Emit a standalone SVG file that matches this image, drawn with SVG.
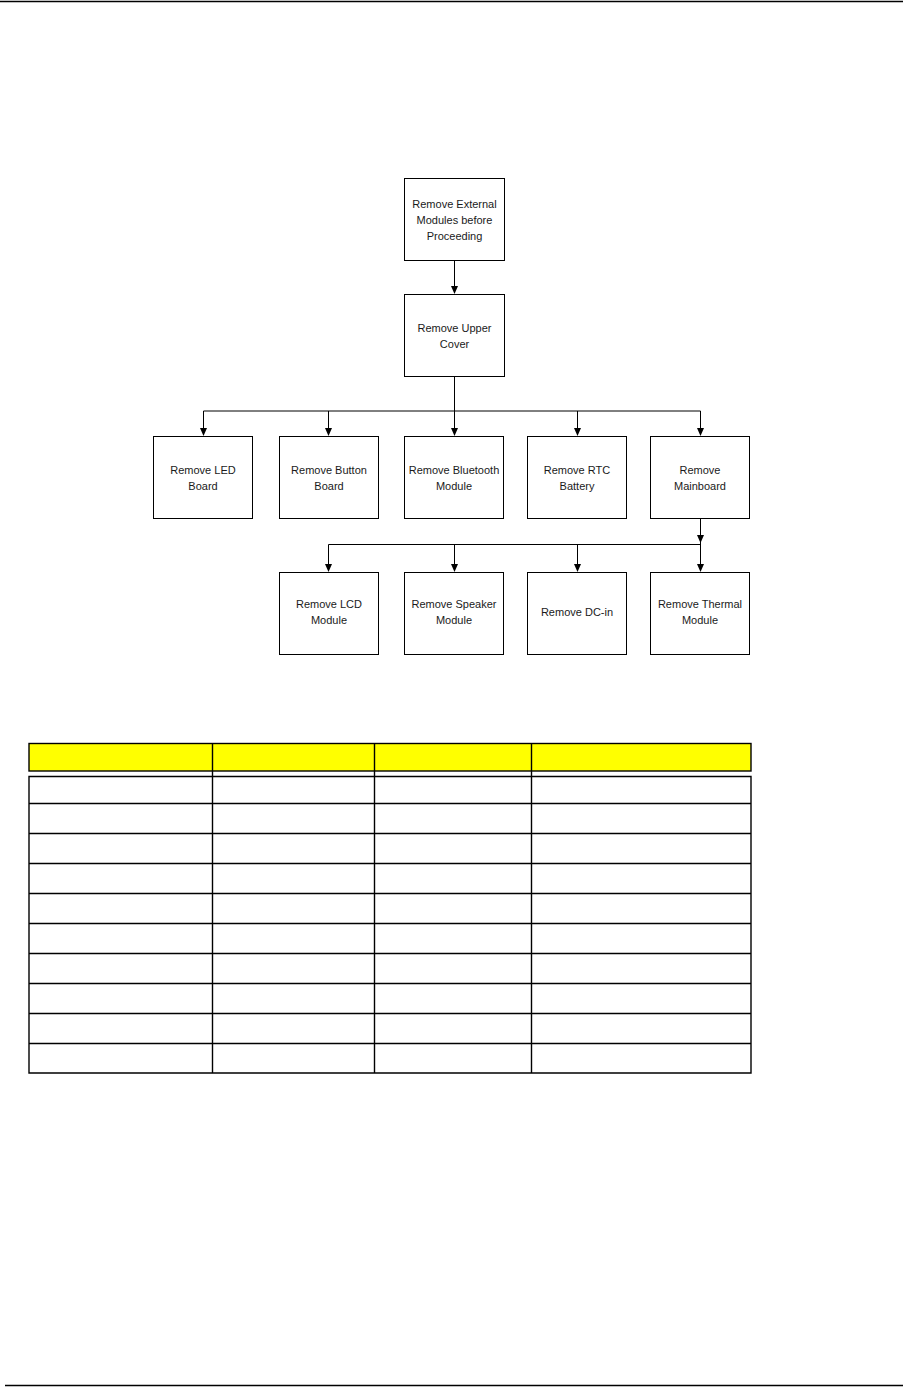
<svg xmlns="http://www.w3.org/2000/svg" width="912" height="1387" viewBox="0 0 912 1387">
<style>
.box{fill:#fff;stroke:#000;stroke-width:1}
.t{font-family:"Liberation Sans",Arial,sans-serif;font-size:11px;fill:#1a1a1a;text-anchor:middle}
.c{fill:none;stroke:#000;stroke-width:1}
.tb{fill:none;stroke:#000;stroke-width:1.4}
</style>
<rect width="912" height="1387" fill="#fff"/>
<line x1="0" y1="1.5" x2="903" y2="1.5" stroke="#000" stroke-width="1.5"/>
<line x1="5" y1="1385.5" x2="903" y2="1385.5" stroke="#000" stroke-width="1.5"/>

<g id="connectors">
<path class="c" d="M454.5,260 V286"/>
<path d="M451,286 L458,286 L454.5,294 Z"/>
<path class="c" d="M454.5,376 V411 M203.5,411 H700.5 M203.5,411 V428 M328.5,411 V428 M454.5,411 V428 M577.5,411 V428 M700.5,411 V428"/>
<path d="M200,428 L207,428 L203.5,436 Z M325,428 L332,428 L328.5,436 Z M451,428 L458,428 L454.5,436 Z M574,428 L581,428 L577.5,436 Z M697,428 L704,428 L700.5,436 Z"/>
<path class="c" d="M700.5,518 V564 M328.5,544.5 H700.5 M328.5,544.5 V564 M454.5,544.5 V564 M577.5,544.5 V564"/>
<path d="M697,535 L704,535 L700.5,543 Z"/>
<path d="M325,564 L332,564 L328.5,572 Z M451,564 L458,564 L454.5,572 Z M574,564 L581,564 L577.5,572 Z M697,564 L704,564 L700.5,572 Z"/>
</g>

<g id="n_external"><rect class="box" x="404.5" y="178.5" width="100" height="82"/>
<text class="t" x="454.5" y="207.5">Remove External</text><text class="t" x="454.5" y="223.5">Modules before</text><text class="t" x="454.5" y="239.5">Proceeding</text></g>
<g id="n_upper"><rect class="box" x="404.5" y="294.5" width="100" height="82"/>
<text class="t" x="454.5" y="331.5">Remove Upper</text><text class="t" x="454.5" y="347.5">Cover</text></g>

<g id="n_led"><rect class="box" x="153.5" y="436.5" width="99" height="82"/>
<text class="t" x="203" y="473.5">Remove LED</text><text class="t" x="203" y="489.5">Board</text></g>
<g id="n_button"><rect class="box" x="279.5" y="436.5" width="99" height="82"/>
<text class="t" x="329" y="473.5">Remove Button</text><text class="t" x="329" y="489.5">Board</text></g>
<g id="n_bluetooth"><rect class="box" x="404.5" y="436.5" width="99" height="82"/>
<text class="t" x="454" y="473.5">Remove Bluetooth</text><text class="t" x="454" y="489.5">Module</text></g>
<g id="n_rtc"><rect class="box" x="527.5" y="436.5" width="99" height="82"/>
<text class="t" x="577" y="473.5">Remove RTC</text><text class="t" x="577" y="489.5">Battery</text></g>
<g id="n_mainboard"><rect class="box" x="650.5" y="436.5" width="99" height="82"/>
<text class="t" x="700" y="473.5">Remove</text><text class="t" x="700" y="489.5">Mainboard</text></g>

<g id="n_lcd"><rect class="box" x="279.5" y="572.5" width="99" height="82"/>
<text class="t" x="329" y="608">Remove LCD</text><text class="t" x="329" y="624">Module</text></g>
<g id="n_speaker"><rect class="box" x="404.5" y="572.5" width="99" height="82"/>
<text class="t" x="454" y="608">Remove Speaker</text><text class="t" x="454" y="624">Module</text></g>
<g id="n_dcin"><rect class="box" x="527.5" y="572.5" width="99" height="82"/>
<text class="t" x="577" y="616">Remove DC-in</text></g>
<g id="n_thermal"><rect class="box" x="650.5" y="572.5" width="99" height="82"/>
<text class="t" x="700" y="608">Remove Thermal</text><text class="t" x="700" y="624">Module</text></g>

<g id="table">
<rect x="29" y="743.5" width="722" height="27.5" fill="#ffff00"/>
<rect class="tb" x="29" y="743.5" width="722" height="27.5"/>
<path class="tb" d="M29,776.5 H751 V1073 H29 Z M212.5,743.5 V1073 M374.5,743.5 V1073 M531.5,743.5 V1073 M29,803.5 H751 M29,833.5 H751 M29,863.5 H751 M29,893.5 H751 M29,923.5 H751 M29,953.5 H751 M29,983.5 H751 M29,1013.5 H751 M29,1043.5 H751"/>
</g>
</svg>
